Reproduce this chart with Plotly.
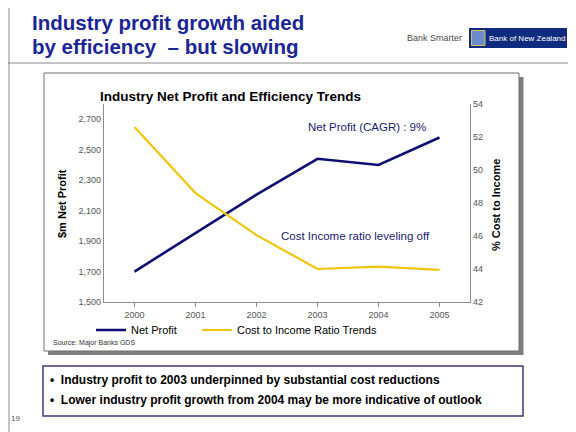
import plotly.graph_objects as go

years = ["2000", "2001", "2002", "2003", "2004", "2005"]
net_profit = [1700, 1955, 2205, 2440, 2400, 2580]
cost_income = [52.6, 48.6, 46.05, 44.0, 44.15, 43.95]
left_ticks = [1500, 1700, 1900, 2100, 2300, 2500, 2700]
right_ticks = [42, 44, 46, 48, 50, 52, 54]

# the page body has an 8px margin: size the figure to the visible area
OFF = 8
W, H = 576 - OFF, 432 - OFF
def px(x):
    return (x - OFF) / W
def py(y):
    return 1 - (y - OFF) / H

NAVY = "#0d0d72"
GOLD = "#f2c40c"
TITLE_BLUE = "#1a2596"
SANS = "Liberation Sans, Arial, sans-serif"
NARROW = "Liberation Sans Narrow, Arial Narrow, Liberation Sans, Arial, sans-serif"

fig = go.Figure()
fig.add_trace(go.Scatter(x=years, y=net_profit, mode="lines", name="Net Profit",
                         line=dict(color=NAVY, width=2.6), yaxis="y", legend="legend"))
fig.add_trace(go.Scatter(x=years, y=cost_income, mode="lines", name="Cost to Income Ratio Trends",
                         line=dict(color=GOLD, width=2.2), yaxis="y2", legend="legend2"))

def R(x0, y0, x1, y1, **kw):
    d = dict(type="rect", xref="paper", yref="paper", x0=px(x0), x1=px(x1), y0=py(y1), y1=py(y0))
    d.update(kw)
    return d

def L(x0, y0, x1, y1, **kw):
    d = dict(type="line", xref="paper", yref="paper", x0=px(x0), x1=px(x1), y0=py(y0), y1=py(y1))
    d.update(kw)
    return d

shapes = [
    L(9, 0, 9, 432, line=dict(color="#8a8a8a", width=1)),
    L(0, 63, 576, 63, line=dict(color="#8a8a8a", width=1)),
    R(48, 77, 523.5, 355, fillcolor="#7f7f7f", line=dict(width=0), layer="below"),
    R(44, 73, 519, 351, fillcolor="white", line=dict(color="#6e6e6e", width=1), layer="below"),
    R(43, 366, 523, 416, fillcolor="rgba(0,0,0,0)", line=dict(color="#3a3a7a", width=1.5)),
    R(469, 28, 567, 48, fillcolor="#0f2b7e", line=dict(width=0)),
    R(471.5, 30.5, 485, 45.5, fillcolor="#6a8ccc", line=dict(color="#d6c25a", width=1)),
]

ann = []
def A(x, y, text, size, color="black", family=SANS, xanchor="left", yanchor="middle", angle=0, bold=False):
    if bold:
        text = "<b>" + text + "</b>"
    ann.append(dict(x=px(x), y=py(y), xref="paper", yref="paper", text=text, showarrow=False,
                    font=dict(size=size, color=color, family=family), xanchor=xanchor,
                    yanchor=yanchor, textangle=angle))

A(30, 23, "Industry profit growth aided", 20.5, TITLE_BLUE, bold=True)
A(30, 46, "by efficiency  \u2013 but slowing", 20.5, TITLE_BLUE, bold=True)
A(434, 38, "Bank Smarter", 9, "#4a4a4a", NARROW, xanchor="center")
A(527, 38, "Bank of New Zealand", 8, "white", NARROW, xanchor="center")
A(230, 97, "Industry Net Profit and Efficiency Trends", 13.5, "black", NARROW, xanchor="center", bold=True)
A(62, 204, "$m Net Profit", 11, "black", SANS, xanchor="center", angle=-90, bold=True)
A(496, 205, "% Cost to Income", 11, "black", SANS, xanchor="center", angle=-90, bold=True)
A(367, 127, "Net Profit (CAGR) : 9%", 11.5, "#1a1a6e", SANS, xanchor="center")
A(355, 236, "Cost Income ratio leveling off", 11.5, "#1a1a6e", SANS, xanchor="center")
A(51, 343, "Source: Major Banks GDS", 7, "#333333", SANS)
A(48, 380, "\u2022  Industry profit to 2003 underpinned by substantial cost reductions", 12, "black", SANS, bold=True)
A(48, 400, "\u2022  Lower industry profit growth from 2004 may be more indicative of outlook", 12, "black", SANS, bold=True)
A(9, 418, "19", 8, "#555555", SANS)

legend_common = dict(orientation="h", yanchor="middle", xanchor="left",
                     font=dict(size=11, color="black", family=SANS), bgcolor="rgba(0,0,0,0)")

fig.update_layout(
    width=W, height=H,
    margin=dict(l=0, r=0, t=0, b=0, autoexpand=False),
    paper_bgcolor="white", plot_bgcolor="rgba(0,0,0,0)",
    shapes=shapes, annotations=ann,
    showlegend=True,
    legend=dict(x=px(91), y=py(330), **legend_common),
    legend2=dict(x=px(197), y=py(330), **legend_common),
    xaxis=dict(domain=[px(104), px(470)], type="category", range=[-0.5, 5.5],
               showline=True, linecolor="#8c8c8c", linewidth=1, showgrid=False, zeroline=False,
               ticks="outside", ticklen=4, tickcolor="#8c8c8c",
               tickfont=dict(size=9, color="#555555", family=SANS)),
    yaxis=dict(domain=[py(302), py(104)], range=[1500, 2800], tickvals=left_ticks,
               tickformat=",", showline=True, linecolor="#8c8c8c", linewidth=1.2, showgrid=False,
               zeroline=False, ticks="", tickfont=dict(size=9, color="#555555", family=SANS)),
    yaxis2=dict(domain=[py(302), py(104)], range=[42, 54], tickvals=right_ticks, overlaying="y",
                side="right", anchor="x", showline=True, linecolor="#8c8c8c", linewidth=1.2,
                showgrid=False, zeroline=False, ticks="",
                tickfont=dict(size=9, color="#555555", family=SANS)),
)

fig.write_html("out.html")
